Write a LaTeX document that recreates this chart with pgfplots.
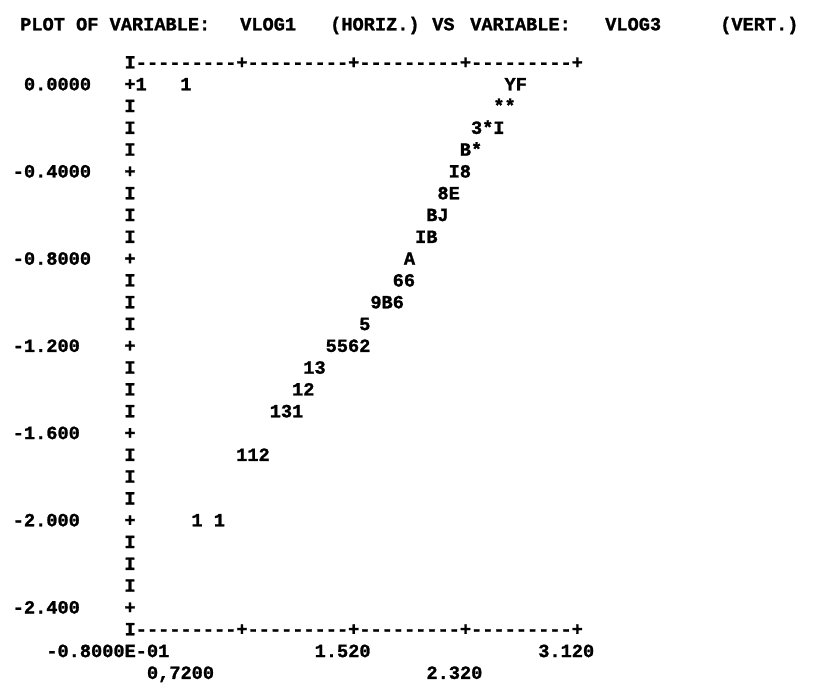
\documentclass[border=0pt]{standalone}
\usepackage{pgfplots}
\pgfplotsset{compat=1.18}
\usepackage{pgfplotstable}
\usepackage{fontspec}
\setmonofont{Liberation Mono}[BoldFeatures={FakeBold=1.3}]
\newcommand\chr{\fontsize{18.63pt}{20pt}\selectfont\ttfamily\bfseries}

% printer-plot cells: x = VLOG1 (column centre), y = VLOG3 (row), c = printed count symbol
\pgfplotstableread{
x y c
0.00 0.0 1
0.32 0.0 1
2.64 0.0 Y
2.72 0.0 F
2.56 -0.1 *
2.64 -0.1 *
2.40 -0.2 3
2.48 -0.2 *
2.56 -0.2 I
2.32 -0.3 B
2.40 -0.3 *
2.24 -0.4 I
2.32 -0.4 8
2.16 -0.5 8
2.24 -0.5 E
2.08 -0.6 B
2.16 -0.6 J
2.00 -0.7 I
2.08 -0.7 B
1.92 -0.8 A
1.84 -0.9 6
1.92 -0.9 6
1.68 -1.0 9
1.76 -1.0 B
1.84 -1.0 6
1.60 -1.1 5
1.36 -1.2 5
1.44 -1.2 5
1.52 -1.2 6
1.60 -1.2 2
1.20 -1.3 1
1.28 -1.3 3
1.12 -1.4 1
1.20 -1.4 2
0.96 -1.5 1
1.04 -1.5 3
1.12 -1.5 1
0.72 -1.7 1
0.80 -1.7 1
0.88 -1.7 2
0.40 -2.0 1
0.56 -2.0 1
}\pts

\pgfplotstableread{
x y c
-0.08 0.0 +
-0.08 -0.1 I
-0.08 -0.2 I
-0.08 -0.3 I
-0.08 -0.4 +
-0.08 -0.5 I
-0.08 -0.6 I
-0.08 -0.7 I
-0.08 -0.8 +
-0.08 -0.9 I
-0.08 -1.0 I
-0.08 -1.1 I
-0.08 -1.2 +
-0.08 -1.3 I
-0.08 -1.4 I
-0.08 -1.5 I
-0.08 -1.6 +
-0.08 -1.7 I
-0.08 -1.8 I
-0.08 -1.9 I
-0.08 -2.0 +
-0.08 -2.1 I
-0.08 -2.2 I
-0.08 -2.3 I
-0.08 -2.4 +
}\yaxis

\begin{document}
\begin{tikzpicture}
\tikzset{lbl/.style={font=\chr, inner sep=0pt, yshift=-5.3pt, anchor=base west}}
\begin{axis}[x=139.75pt, y=218pt,
  xmin=-1.0102, xmax=4.8216, ymin=-2.7982, ymax=0.3899,
  hide axis, clip=false]
\path[draw=none] (axis cs:-1.0102,-2.7982) rectangle (axis cs:4.8216,0.3899);
\addplot[only marks, mark=none, point meta=explicit symbolic, nodes near coords,
  every node near coord/.style={anchor=base, inner sep=0pt, yshift=-5.3pt, font=\chr}]
  table[x=x, y=y, meta=c]{\yaxis};
\addplot[only marks, mark=none, point meta=explicit symbolic, nodes near coords,
  every node near coord/.style={anchor=base, inner sep=0pt, yshift=-5.3pt, font=\chr}]
  table[x=x, y=y, meta=c]{\pts};
% title
\node[lbl] at (axis cs:-0.867,0.275) {PLOT OF VARIABLE:};
\node[lbl] at (axis cs:0.707,0.275) {VLOG1};
\node[lbl] at (axis cs:1.351,0.275) {(HORIZ.)};
\node[lbl] at (axis cs:2.081,0.275) {VS};
\node[lbl] at (axis cs:2.353,0.275) {VARIABLE:};
\node[lbl] at (axis cs:3.319,0.275) {VLOG3};
\node[lbl] at (axis cs:4.142,0.275) {(VERT.)};
% frame lines
\node[lbl] at (axis cs:-0.12,0.1) {I---------+---------+---------+---------+};
\node[lbl] at (axis cs:-0.12,-2.5) {I---------+---------+---------+---------+};
% vertical scale
\node[lbl] at (axis cs:-0.84,0.0) {0.0000};
\node[lbl] at (axis cs:-0.92,-0.4) {-0.4000};
\node[lbl] at (axis cs:-0.92,-0.8) {-0.8000};
\node[lbl] at (axis cs:-0.92,-1.2) {-1.200};
\node[lbl] at (axis cs:-0.92,-1.6) {-1.600};
\node[lbl] at (axis cs:-0.92,-2.0) {-2.000};
\node[lbl] at (axis cs:-0.92,-2.4) {-2.400};
% horizontal scale
\node[lbl] at (axis cs:-0.68,-2.6) {-0.8000E-01};
\node[lbl] at (axis cs:1.24,-2.6) {1.520};
\node[lbl] at (axis cs:2.84,-2.6) {3.120};
\node[lbl] at (axis cs:0.04,-2.7) {0,7200};
\node[lbl] at (axis cs:2.04,-2.7) {2.320};
\end{axis}
\end{tikzpicture}
\end{document}
